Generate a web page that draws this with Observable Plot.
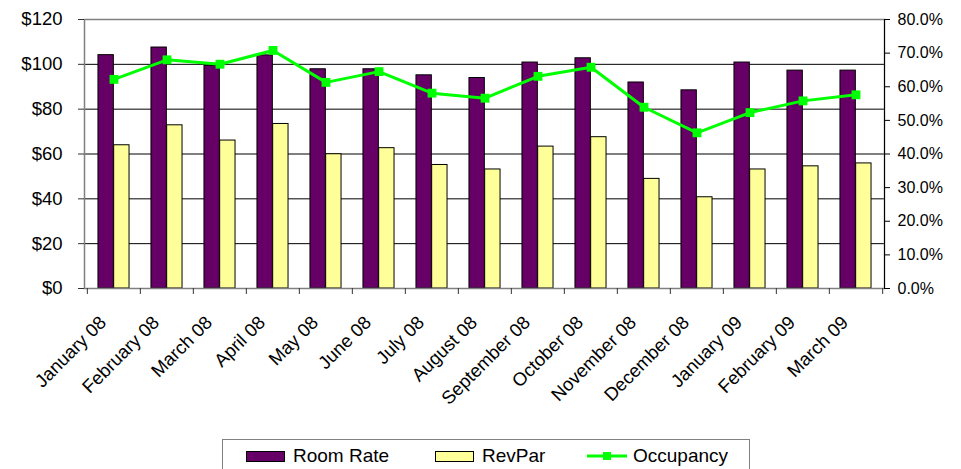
<!DOCTYPE html>
<html>
<head>
<meta charset="utf-8">
<script src="https://cdn.jsdelivr.net/npm/d3@7"></script>
<script src="https://cdn.jsdelivr.net/npm/@observablehq/plot@0.6"></script>
<style>
  body { margin: 0; background: #fff; font-family: "Liberation Sans", Arial, sans-serif; }
  #wrap { position: relative; width: 961px; height: 469px; overflow: hidden; }
  #legend {
    position: absolute; left: 222px; top: 439px; width: 528px; height: 40px;
    border: 1px solid #808080; box-sizing: border-box; background: #fff;
  }
  #legend svg { position: absolute; left: 0; top: 0; }
</style>
</head>
<body>
<div id="wrap">
  <div id="chart"></div>
  <div id="legend"></div>
</div>
<script>
// Monthly hotel performance, January 2008 – March 2009
const months = [
  "January 08", "February 08", "March 08", "April 08", "May 08", "June 08",
  "July 08", "August 08", "September 08", "October 08", "November 08",
  "December 08", "January 09", "February 09", "March 09"
];
// Average room rate, dollars
const roomRate = [104.1, 107.5, 99.3, 104.0, 97.8, 97.8, 95.1, 93.9, 100.8, 102.7, 91.9, 88.4, 100.8, 97.2, 97.2];
// Revenue per available room, dollars
const revPar = [63.9, 72.8, 66.0, 73.4, 59.9, 62.6, 55.1, 53.1, 63.3, 67.5, 48.9, 40.7, 53.1, 54.5, 55.8];
// Occupancy, percent
const occupancy = [62.2, 68.0, 66.7, 70.8, 61.3, 64.5, 58.1, 56.6, 63.1, 65.8, 53.9, 46.3, 52.3, 55.8, 57.6];

// Axis ticks
const dollarTicks = [0, 20, 40, 60, 80, 100, 120];
const percentTicks = [0, 10, 20, 30, 40, 50, 60, 70, 80];

const colors = { room: "#660066", rev: "#FFFF99", occ: "#00FF00" };

const W = 961, H = 436;
const mL = 84, mR = 77, mT = 19, mB = 148;
const dollarMax = 120, percentMax = 80;
const bw = (W - mL - mR) / months.length;   // width of one month slot
const barW = 15.7;                            // width of each bar

// The occupancy series shares the dollar scale: 80% sits at the top like $120
const pctToDollar = p => p * dollarMax / percentMax;

const rows = months.map((m, i) => ({
  month: m, room: roomRate[i], rev: revPar[i], occ: occupancy[i]
}));

const font = '"Liberation Sans", Arial, sans-serif';

const chart = Plot.plot({
  width: W,
  height: H,
  marginLeft: mL,
  marginRight: mR,
  marginTop: mT,
  marginBottom: mB,
  style: { fontFamily: font, color: "#000", background: "#fff", overflow: "visible" },
  x: { type: "band", domain: months, padding: 0, axis: null, label: null },
  y: { domain: [0, dollarMax], axis: null, label: null },
  marks: [
    // horizontal gridlines
    Plot.ruleY(dollarTicks.filter(d => d > 0 && d < dollarMax), { stroke: "#000", strokeWidth: 1 }),

    // bars: room rate on the left half of each slot, RevPar on the right
    Plot.barY(rows, {
      x: "month", y: "room", fill: colors.room, stroke: "#000", strokeWidth: 1,
      insetLeft: bw / 2 - barW, insetRight: bw / 2
    }),
    Plot.barY(rows, {
      x: "month", y: "rev", fill: colors.rev, stroke: "#000", strokeWidth: 1,
      insetLeft: bw / 2, insetRight: bw / 2 - barW
    }),

    // plot area border and right axis line
    Plot.frame({ stroke: "#808080", strokeWidth: 1.5 }),
    Plot.frame({ anchor: "right", stroke: "#000", strokeWidth: 1 }),

    // occupancy line with square markers
    Plot.line(rows, { x: "month", y: d => pctToDollar(d.occ), stroke: colors.occ, strokeWidth: 3 }),
    Plot.dot(rows, { x: "month", y: d => pctToDollar(d.occ), symbol: "square", r: 5, fill: colors.occ, stroke: "none" }),

    // left dollar axis
    Plot.axisY({
      anchor: "left", ticks: dollarTicks, tickFormat: d => "$" + d, label: null,
      tickSize: 6, tickPadding: 16, fontSize: 18.5, stroke: "#333"
    }),
    // right percent axis
    Plot.axisY({
      anchor: "right", ticks: percentTicks.map(pctToDollar), label: null,
      tickFormat: d => (d * percentMax / dollarMax).toFixed(1) + "%",
      tickSize: 5, tickPadding: 8, fontSize: 16, stroke: "#000"
    }),

    // x tick marks at the boundaries between months
    Plot.axisX({ anchor: "bottom", tickSize: 6, tickFormat: () => "", label: null, dx: -bw / 2, stroke: "#333" }),
    Plot.axisX({ anchor: "bottom", ticks: [months[months.length - 1]], tickSize: 6, tickFormat: () => "", label: null, dx: bw / 2, stroke: "#333" }),
    // rotated month labels
    Plot.axisX({
      anchor: "bottom", tickSize: 0, tickPadding: 0, tickRotate: -45, label: null,
      fontSize: 18.5, dx: -11, dy: 31
    })
  ]
});
document.getElementById("chart").appendChild(chart);

// Legend below the chart
const legendSvg = d3.select("#legend").append("svg")
  .attr("width", 528).attr("height", 40)
  .style("font-family", font).style("font-size", "19px");
const items = [
  { label: "Room Rate", x: 23, kind: "bar", fill: colors.room },
  { label: "RevPar", x: 212, kind: "bar", fill: colors.rev },
  { label: "Occupancy", x: 364, kind: "line", fill: colors.occ }
];
items.forEach(it => {
  const g = legendSvg.append("g").attr("transform", `translate(${it.x},0)`);
  if (it.kind === "bar") {
    g.append("rect").attr("x", 0.5).attr("y", 11.5).attr("width", 38).attr("height", 10)
      .attr("fill", it.fill).attr("stroke", "#000").attr("stroke-width", 1);
    g.append("text").attr("x", 47).attr("y", 21.5).text(it.label);
  } else {
    g.append("line").attr("x1", 0).attr("x2", 40).attr("y1", 16).attr("y2", 16)
      .attr("stroke", it.fill).attr("stroke-width", 3);
    g.append("rect").attr("x", 16).attr("y", 12).attr("width", 8).attr("height", 8).attr("fill", it.fill);
    g.append("text").attr("x", 46).attr("y", 21.5).text(it.label);
  }
});
</script>
</body>
</html>
